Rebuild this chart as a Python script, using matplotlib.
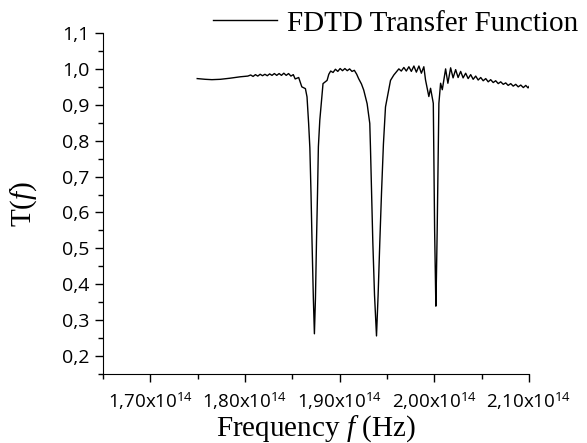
import matplotlib
matplotlib.use("Agg")
import matplotlib.pyplot as plt
from matplotlib.ticker import FixedLocator, MultipleLocator

# frequency in units of 1e14 Hz, transfer function T(f)
freq = [1.7495, 1.758, 1.765, 1.774, 1.784, 1.795, 1.803,
        1.806, 1.8085, 1.811, 1.8135, 1.816, 1.8185, 1.821, 1.8235, 1.826, 1.8285,
        1.831, 1.8335, 1.836, 1.8385, 1.841, 1.8435, 1.846, 1.8485, 1.851,
        1.853, 1.8567, 1.860, 1.8638, 1.8655,
        1.8672, 1.8685, 1.8697, 1.8708, 1.8722, 1.8733, 1.8744, 1.8755, 1.8766, 1.8775,
        1.8790, 1.8824, 1.8867, 1.8885,
        1.8905, 1.893, 1.8955, 1.898, 1.9005, 1.903, 1.9055, 1.908, 1.9105, 1.913, 1.9155, 1.918,
        1.920, 1.923, 1.9254, 1.929, 1.9318,
        1.9325, 1.9337, 1.935, 1.9368, 1.9389, 1.9406, 1.9424, 1.9442, 1.9462,
        1.9484, 1.951, 1.9537, 1.9572,
        1.9625, 1.9651, 1.9678, 1.9704, 1.9731, 1.9757, 1.9784, 1.981, 1.9837, 1.9863, 1.9889,
        1.9907, 1.9942, 1.996, 1.9989,
        1.9993, 2.0003, 2.0011, 2.0016, 2.0022, 2.0030, 2.0042,
        2.0048, 2.0066, 2.0084, 2.0119, 2.0143,
        2.0172, 2.0198, 2.0225, 2.0251, 2.0278, 2.0304, 2.0331, 2.0357, 2.0384, 2.041,
        2.0437, 2.0463, 2.049, 2.0516, 2.0543, 2.0569, 2.0595, 2.0622, 2.0648, 2.0675,
        2.0701, 2.0728, 2.0754, 2.078, 2.0807, 2.0833, 2.086, 2.0886, 2.0913, 2.094,
        2.0966, 2.099, 2.100]
trans = [0.973, 0.971, 0.970, 0.971, 0.974, 0.978, 0.980,
         0.983, 0.979, 0.984, 0.980, 0.985, 0.981, 0.985, 0.981, 0.986, 0.982,
         0.987, 0.982, 0.987, 0.982, 0.988, 0.982, 0.987, 0.980, 0.984,
         0.972, 0.976, 0.950, 0.945, 0.922,
         0.848, 0.780, 0.655, 0.518, 0.360, 0.262, 0.360, 0.518, 0.655, 0.783,
         0.857, 0.959, 0.968, 0.985,
         0.994, 0.990, 0.999, 0.993, 1.001, 0.995, 1.001, 0.995, 1.000, 0.993, 0.996, 0.985,
         0.973, 0.958, 0.941, 0.903, 0.848,
         0.783, 0.655, 0.518, 0.370, 0.256, 0.370, 0.518, 0.655, 0.790,
         0.894, 0.931, 0.968, 0.983,
         1.000, 0.994, 1.004, 0.994, 1.006, 0.993, 1.008, 0.991, 1.008, 0.988, 1.006,
         0.969, 0.923, 0.946, 0.904,
         0.797, 0.550, 0.420, 0.339, 0.420, 0.550, 0.797,
         0.904, 0.960, 0.942, 1.000, 0.960,
         1.003, 0.975, 0.998, 0.976, 0.993, 0.975, 0.988, 0.973, 0.984, 0.971,
         0.980, 0.969, 0.976, 0.967, 0.973, 0.964, 0.970, 0.962, 0.967, 0.959,
         0.964, 0.957, 0.961, 0.954, 0.959, 0.952, 0.957, 0.950, 0.955, 0.948,
         0.954, 0.947, 0.951]

xticks = [1.70, 1.80, 1.90, 2.00, 2.10]
xticklabels = ["1,70x10$^{14}$", "1,80x10$^{14}$", "1,90x10$^{14}$",
               "2,00x10$^{14}$", "2,10x10$^{14}$"]
yticks = [0.2, 0.3, 0.4, 0.5, 0.6, 0.7, 0.8, 0.9, 1.0, 1.1]
yticklabels = ["0,2", "0,3", "0,4", "0,5", "0,6", "0,7", "0,8", "0,9", "1,0", "1,1"]

plt.rcParams["mathtext.fontset"] = "custom"
plt.rcParams["mathtext.rm"] = "Open Sans"
plt.rcParams["mathtext.it"] = "Liberation Serif:italic"

fig = plt.figure(figsize=(5.87, 4.43), dpi=100)
ax = fig.add_axes([0.1755, 0.1558, 0.7257, 0.7697])

ax.plot(freq, trans, color="black", linewidth=1.0, label="FDTD Transfer Function")

ax.set_xlim(1.65, 2.10)
ax.set_ylim(0.15, 1.10)
ax.xaxis.set_major_locator(FixedLocator(xticks))
ax.set_xticklabels(xticklabels, fontfamily="Open Sans", fontsize=13.5)
ax.xaxis.set_minor_locator(MultipleLocator(0.05))
ax.yaxis.set_major_locator(FixedLocator(yticks))
ax.set_yticklabels(yticklabels, fontfamily="Open Sans", fontsize=14)
ax.yaxis.set_minor_locator(MultipleLocator(0.05))

ax.spines["top"].set_visible(False)
ax.spines["right"].set_visible(False)
ax.tick_params(which="major", direction="out", length=6, width=1)
ax.tick_params(which="minor", direction="out", length=3.5, width=1)
ax.tick_params(axis="x", pad=6)
ax.tick_params(axis="y", pad=4)

ax.set_xlabel("Frequency $f$ (Hz)", fontfamily="Liberation Serif", fontsize=21, labelpad=1)
ax.set_ylabel("T($f$)", fontfamily="Liberation Serif", fontsize=21, labelpad=16)

fig.legend(loc="upper right", bbox_to_anchor=(0.995, 0.99), frameon=False,
           prop={"family": "Liberation Serif", "size": 21},
           handlelength=2.2, handletextpad=0.35, borderaxespad=0.1, borderpad=0.1)

fig.savefig("out.png", dpi=100)
